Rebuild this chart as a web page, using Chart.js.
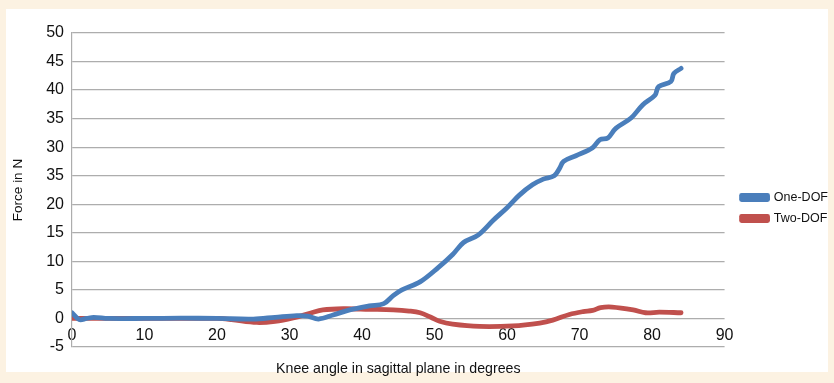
<!DOCTYPE html>
<html>
<head>
<meta charset="utf-8">
<script src="https://cdn.jsdelivr.net/npm/chart.js@4/dist/chart.umd.min.js"></script>
<style>
  html, body { margin: 0; padding: 0; background: #fcf2e2; }
  #wrap { position: relative; width: 834px; height: 383px; }
  #panel { position: absolute; left: 6px; top: 9px; width: 822px; height: 363px; background: #ffffff; }
  #cv { position: absolute; left: 0; top: 0; }
</style>
</head>
<body>
<div id="wrap">
  <div id="panel"></div>
  <canvas id="cv" width="834" height="383"></canvas>
</div>
<script>
// ---- Data ----
const seriesNames = ["One-DOF", "Two-DOF"];

const oneDofAngle = [0, 1, 2, 3, 5, 10, 15, 20, 25, 28, 31, 32.5, 34, 36, 38.3, 41, 43, 44.3, 45.5, 48, 50.5, 52.5, 54, 56, 58.1, 60, 61.7, 63.5, 65, 66.5, 67.2, 67.8, 69.5, 71.8, 72.8, 73.9, 75, 77.1, 78.7, 80.4, 80.9, 82.6, 83, 84];
const oneDofForce = [1.0, -0.2, 0, 0.2, 0, 0, 0.05, 0, -0.1, 0.2, 0.5, 0.4, -0.1, 0.6, 1.5, 2.2, 2.6, 4.0, 5.0, 6.4, 8.9, 11.2, 13.3, 14.6, 17.2, 19.4, 21.6, 23.4, 24.4, 25.0, 26.2, 27.5, 28.5, 29.9, 31.3, 31.6, 33.3, 35.1, 37.4, 39.1, 40.6, 41.5, 42.9, 43.8];

const twoDofAngle = [0, 5, 10, 15, 20, 22, 25.5, 28, 30.5, 32.8, 34.6, 37.4, 41, 44.3, 46.5, 48, 49.5, 50.7, 52.5, 56.2, 60.8, 64.5, 66.3, 68.6, 70.5, 71.8, 72.9, 74.5, 77.4, 79.1, 81, 84];
const twoDofForce = [0, 0, 0, 0, 0, -0.2, -0.7, -0.5, 0.1, 0.9, 1.5, 1.7, 1.6, 1.5, 1.3, 1.0, 0.2, -0.5, -1.0, -1.4, -1.3, -0.8, -0.3, 0.7, 1.2, 1.4, 1.9, 2.0, 1.5, 1.0, 1.1, 1.0];

const yTickValues = [-5, 0, 5, 10, 15, 20, 25, 30, 35, 40, 45, 50];
const yTickLabels = ["-5", "0", "5", "10", "15", "20", "35", "30", "35", "40", "45", "50"];
const xTickValues = [0, 10, 20, 30, 40, 50, 60, 70, 80, 90];
const xTickLabels = ["0", "10", "20", "30", "40", "50", "60", "70", "80", "90"];

const xTitle = "Knee angle in sagittal plane in degrees";
const yTitle = "Force in N";

// ---- Build ----
const toPoints = (xs, ys) => xs.map((x, i) => ({ x: x, y: ys[i] }));
const FONT = "'Liberation Sans', Arial, sans-serif";
const GRID = '#adadad';
const TXT = '#111111';

new Chart(document.getElementById('cv'), {
  type: 'scatter',
  data: {
    datasets: [
      { label: seriesNames[0], data: toPoints(oneDofAngle, oneDofForce), borderColor: '#4a7ebb', backgroundColor: '#4a7ebb',
        showLine: true, borderWidth: 4.8, pointRadius: 0, tension: 0.35, borderCapStyle: 'round', borderJoinStyle: 'round' },
      { label: seriesNames[1], data: toPoints(twoDofAngle, twoDofForce), borderColor: '#c0504d', backgroundColor: '#c0504d',
        showLine: true, borderWidth: 4.8, pointRadius: 0, tension: 0.35, borderCapStyle: 'round', borderJoinStyle: 'round' }
    ]
  },
  options: {
    responsive: false,
    animation: false,
    devicePixelRatio: 1,
    layout: { padding: { left: 6, top: 33, right: -4, bottom: 0 } },
    plugins: {
      tooltip: { enabled: false },
      legend: {
        position: 'right',
        align: 'center',
        labels: {
          boxWidth: 26, boxHeight: 4, padding: 8.5,
          color: TXT, font: { size: 12.5, family: FONT }
        }
      }
    },
    scales: {
      x: {
        type: 'linear', position: 'bottom',
        min: 0, max: 90,
        afterBuildTicks: (s) => { s.ticks = xTickValues.map(v => ({ value: v })); },
        ticks: {
          mirror: true, padding: 1.5, color: TXT, font: { size: 16, family: FONT },
          maxRotation: 0, autoSkip: false,
          callback: (v) => { const i = xTickValues.indexOf(v); return i >= 0 ? xTickLabels[i] : ''; }
        },
        grid: { display: false, drawTicks: false },
        border: { display: false },
        title: { display: true, text: xTitle, color: TXT, font: { size: 14.2, family: FONT }, padding: { top: 0, bottom: 5.5 } },
        afterFit: (s) => { s.height = 36; }
      },
      y: {
        type: 'linear', position: 'left',
        min: -5, max: 50,
        afterBuildTicks: (s) => { s.ticks = yTickValues.map(v => ({ value: v })); },
        ticks: {
          padding: 8, color: TXT, font: { size: 16, family: FONT },
          callback: (v) => { const i = yTickValues.indexOf(v); return i >= 0 ? yTickLabels[i] : ''; }
        },
        grid: { color: GRID, lineWidth: 1.2, drawTicks: false },
        border: { display: true, color: GRID, width: 1.2 },
        title: { display: true, text: yTitle, color: TXT, font: { size: 13.5, family: FONT }, padding: { top: 4, bottom: 0 } },
        afterFit: (s) => { s.width = 66; }
      },
      yGap: {
        type: 'linear', position: 'right', display: true,
        ticks: { display: false }, grid: { display: false, drawTicks: false }, border: { display: false },
        afterFit: (s) => { s.width = 8.5; }
      }
    }
  }
});
</script>
</body>
</html>
